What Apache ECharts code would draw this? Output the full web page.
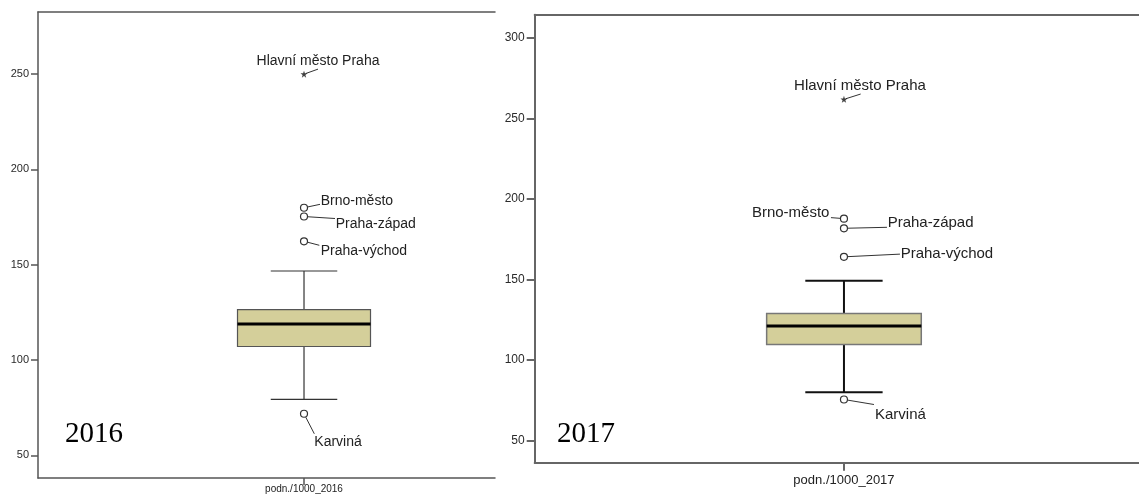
<!DOCTYPE html>
<html><head><meta charset="utf-8">
<script src="https://cdn.jsdelivr.net/npm/echarts@6/dist/echarts.min.js"></script>
<style>html,body{margin:0;padding:0;background:#fff}#c{width:1139px;height:497px}</style>
</head><body><div id="c"></div>
<script>
// ---- data ----
const categories = ['podn./1000_2016', 'podn./1000_2017'];
const yearLabels = ['2016', '2017'];
const yTicks2016 = [50, 100, 150, 200, 250];
const yTicks2017 = [50, 100, 150, 200, 250, 300];
// [lower whisker, Q1, median, Q3, upper whisker]
const box2016 = [79.4, 107.1, 118.9, 126.4, 146.7];
const box2017 = [80.1, 109.7, 121.2, 128.9, 149.2];
const extremeNames = ['Hlavní město Praha'];
const extremes2016 = [250.0];
const extremes2017 = [261.8];
const outlierNames = ['Brno-město', 'Praha-západ', 'Praha-východ', 'Karviná'];
const outliers2016 = [179.9, 175.3, 162.3, 71.8];
const outliers2017 = [187.8, 181.8, 164.1, 75.6];

// ---- label placement (pixel offsets from the point) ----
const place2016 = [
  {lx: 14, ly: -5, tx: 14, ty: -13.3, align: 'center'},
  {lx: 16, ly: -3.4, tx: 16.7, ty: -6.7, align: 'left'},
  {lx: 31, ly: 2, tx: 31.7, ty: 7.4, align: 'left'},
  {lx: 15.3, ly: 4, tx: 16.7, ty: 9.4, align: 'left'},
  {lx: 10.3, ly: 20, tx: 10.3, ty: 28.4, align: 'left'}
];
const place2017 = [
  {lx: 16.7, ly: -5.3, tx: 16, ty: -13.6, align: 'center'},
  {lx: -13, ly: -1, tx: -14.5, ty: -5.6, align: 'right'},
  {lx: 43, ly: -1, tx: 43.7, ty: -5.3, align: 'left'},
  {lx: 56, ly: -2.7, tx: 56.7, ty: -2.7, align: 'left'},
  {lx: 30, ly: 5, tx: 31, ty: 15.7, align: 'left'}
];

const SANS = '"Liberation Sans", Arial, sans-serif';
const allNames = extremeNames.concat(outlierNames);

function boxRender(st) {
  return function (params, api) {
    const x = api.value(0);
    const lo = api.coord([x, api.value(1)]);
    const q1 = api.coord([x, api.value(2)]);
    const md = api.coord([x, api.value(3)]);
    const q3 = api.coord([x, api.value(4)]);
    const hi = api.coord([x, api.value(5)]);
    const bl = api.coord([x - 0.25, api.value(3)])[0];
    const br = api.coord([x + 0.25, api.value(3)])[0];
    const cl = api.coord([x - 0.125, api.value(3)])[0];
    const cr = api.coord([x + 0.125, api.value(3)])[0];
    const ws = {stroke: st.whisker, lineWidth: st.whiskerWidth};
    return {
      type: 'group', children: [
        {type: 'line', shape: {x1: hi[0], y1: hi[1], x2: q3[0], y2: q3[1]}, style: ws},
        {type: 'line', shape: {x1: lo[0], y1: lo[1], x2: q1[0], y2: q1[1]}, style: ws},
        {type: 'line', shape: {x1: cl, y1: hi[1], x2: cr, y2: hi[1]}, style: ws},
        {type: 'line', shape: {x1: cl, y1: lo[1], x2: cr, y2: lo[1]}, style: ws},
        {type: 'rect', shape: {x: bl, y: q3[1], width: br - bl, height: q1[1] - q3[1]},
          style: {fill: '#d4cf9a', stroke: st.border, lineWidth: st.borderWidth}},
        {type: 'line', shape: {x1: bl, y1: md[1], x2: br, y2: md[1]}, style: {stroke: '#000', lineWidth: 3}}
      ]
    };
  };
}

function labelRender(place, fontSize) {
  return function (params, api) {
    const k = api.value(2);
    const p = api.coord([api.value(0), api.value(1)]);
    const s = place[k];
    const len = Math.hypot(s.lx, s.ly);
    const r = k === 0 ? 2 : 3.8;
    const x0 = p[0] + s.lx / len * r, y0 = p[1] + s.ly / len * r;
    return {
      type: 'group', children: [
        {type: 'line', shape: {x1: x0, y1: y0, x2: p[0] + s.lx, y2: p[1] + s.ly},
          style: {stroke: '#333', lineWidth: 1}},
        {type: 'text', style: {text: allNames[k], x: p[0] + s.tx, y: p[1] + s.ty, fill: '#222',
          font: fontSize + 'px ' + SANS, align: s.align, verticalAlign: 'middle',
          textAlign: s.align, textVerticalAlign: 'middle'}}
      ]
    };
  };
}

function xAxes(gi, max, cat, st) {
  return [
    {gridIndex: gi, type: 'value', min: 0, max: max,
      axisLine: {show: true, onZero: false, lineStyle: {color: st.frame, width: st.frameWidth}},
      axisTick: {show: true, customValues: [1], length: st.tick, lineStyle: {color: st.frame, width: st.frameWidth}},
      axisLabel: {customValues: [1], formatter: function () { return cat; }, margin: st.xMargin,
        fontSize: st.xFont, color: '#222', fontFamily: SANS},
      splitLine: {show: false}},
    {gridIndex: gi, type: 'value', position: 'top', min: 0, max: max,
      axisLine: {show: true, onZero: false, lineStyle: {color: st.frame, width: st.frameWidth}},
      axisTick: {show: false}, axisLabel: {show: false}, splitLine: {show: false}}
  ];
}
function yAxis(gi, min, max, ticks, st) {
  return {gridIndex: gi, type: 'value', min: min, max: max,
    axisLine: {show: true, onZero: false, lineStyle: {color: st.frame, width: st.frameWidth}},
    axisTick: {show: true, customValues: ticks, length: st.tick, lineStyle: {color: st.frame, width: st.frameWidth}},
    axisLabel: {customValues: ticks, margin: st.yMargin, fontSize: st.yFont, color: '#2a2a2a', fontFamily: SANS},
    splitLine: {show: false}};
}

const st16 = {frame: '#555', frameWidth: 1.5, tick: 7, xMargin: 6, xFont: 10, yMargin: 9, yFont: 11,
  whisker: '#333', whiskerWidth: 1.2, border: '#555', borderWidth: 1.2};
const st17 = {frame: '#666', frameWidth: 2, tick: 8, xMargin: 11, xFont: 13, yMargin: 10, yFont: 12,
  whisker: '#111', whiskerWidth: 2, border: '#777', borderWidth: 1.5};

const starPath = 'path://M0,-10L2.35,-3.24L9.51,-3.09L3.8,1.24L5.88,8.09L0,4L-5.88,8.09L-3.8,1.24L-9.51,-3.09L-2.35,-3.24Z';

function panelSeries(i, box, extremes, outliers, place, st, fontSize) {
  const lbl = extremes.map((v, k) => [1, v, k]).concat(outliers.map((v, k) => [1, v, k + extremes.length]));
  return [
    {type: 'custom', xAxisIndex: i * 2, yAxisIndex: i, renderItem: boxRender(st),
      encode: {x: 0, y: [1, 2, 3, 4, 5]}, data: [[1].concat(box)], z: 2, silent: true},
    {type: 'custom', xAxisIndex: i * 2, yAxisIndex: i, renderItem: labelRender(place, fontSize),
      encode: {x: 0, y: 1}, data: lbl, z: 3, silent: true},
    {type: 'scatter', xAxisIndex: i * 2, yAxisIndex: i, symbol: 'circle', symbolSize: 7,
      itemStyle: {color: '#fff', borderColor: '#333', borderWidth: 1.2, opacity: 1},
      data: outliers.map(v => [1, v]), z: 4, silent: true},
    {type: 'scatter', xAxisIndex: i * 2, yAxisIndex: i, symbol: starPath, symbolSize: 7,
      itemStyle: {color: '#111'}, data: extremes.map(v => [1, v]), z: 4, silent: true}
  ];
}

const chart = echarts.init(document.getElementById('c'), null, {renderer: 'canvas'});
chart.setOption({
  animation: false,
  backgroundColor: '#fff',
  title: [
    {text: yearLabels[0], left: 65, top: 420, padding: 0,
      textStyle: {fontFamily: '"Liberation Serif", "Times New Roman", serif', fontSize: 29, fontWeight: 'normal', color: '#000'}},
    {text: yearLabels[1], left: 557, top: 420, padding: 0,
      textStyle: {fontFamily: '"Liberation Serif", "Times New Roman", serif', fontSize: 29, fontWeight: 'normal', color: '#000'}}
  ],
  grid: [
    {left: 38, top: 12, width: 457, height: 466},
    {left: 534.7, top: 14.7, width: 604.3, height: 448}
  ],
  xAxis: xAxes(0, 1.718, categories[0], st16).concat(xAxes(1, 1.954, categories[1], st17)),
  yAxis: [yAxis(0, 38.1, 282.6, yTicks2016, st16), yAxis(1, 36.4, 314.3, yTicks2017, st17)],
  series: panelSeries(0, box2016, extremes2016, outliers2016, place2016, st16, 14)
    .concat(panelSeries(1, box2017, extremes2017, outliers2017, place2017, st17, 15))
});
</script>
</body></html>
